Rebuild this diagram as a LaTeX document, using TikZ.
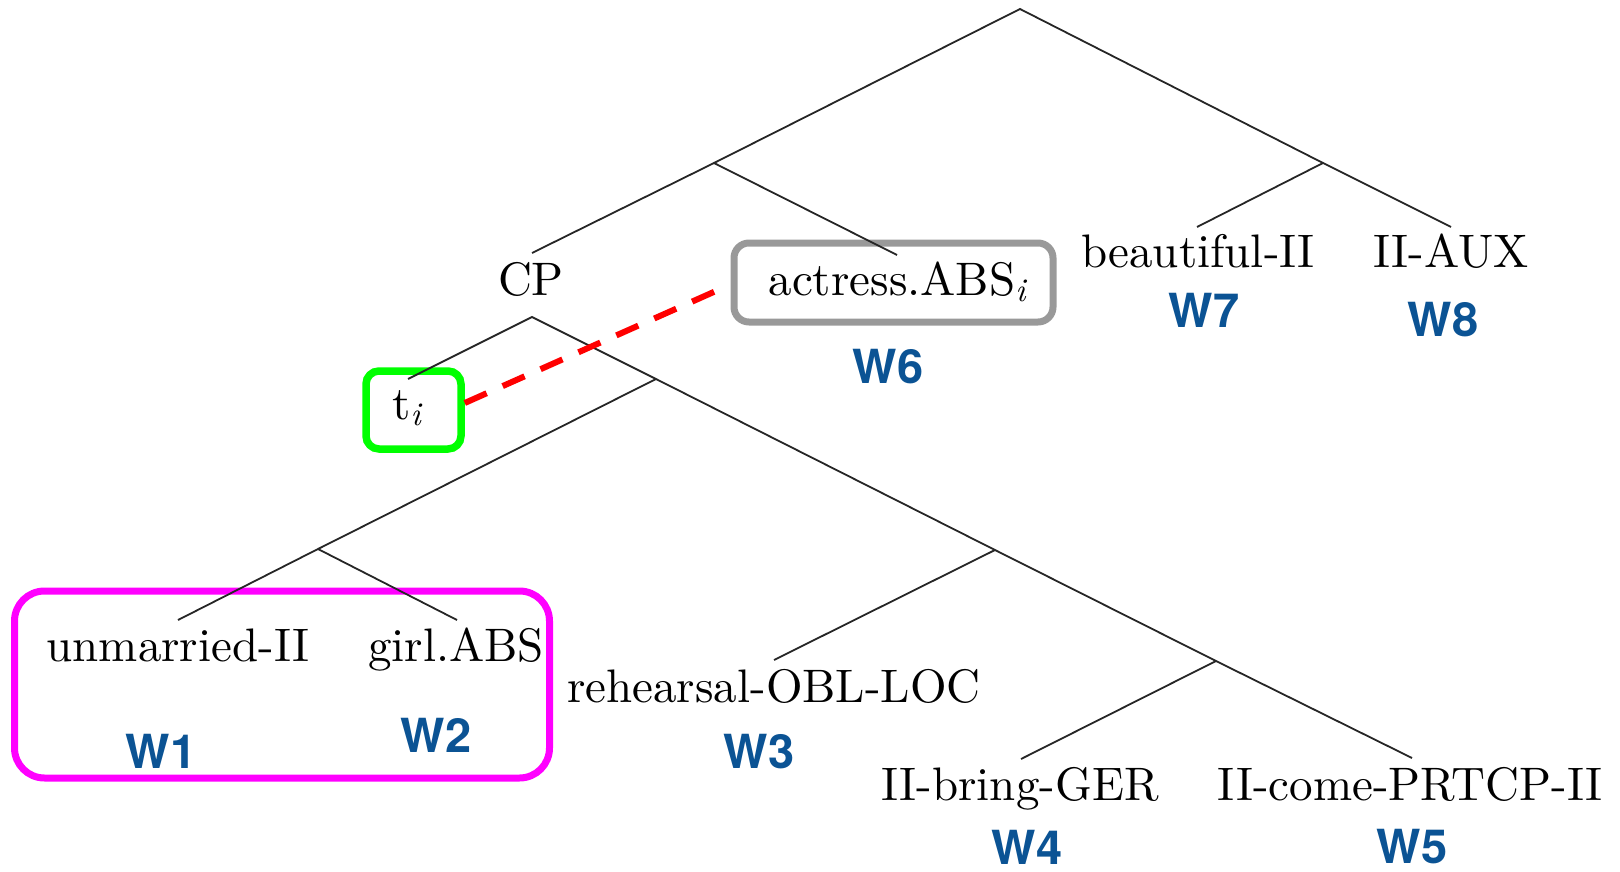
\documentclass[tikz,border=0pt]{standalone}
\usepackage{fontspec}
\setmainfont{lmroman10-regular.otf}[ItalicFont=lmroman10-italic.otf, BoldFont=lmroman10-bold.otf]
\newfontfamily\wfont{TeX Gyre Heros}
\definecolor{wblue}{HTML}{0B5394}
\definecolor{gbox}{HTML}{999999}
\definecolor{pbox}{HTML}{FF00FF}
\definecolor{lbox}{HTML}{00FF00}
\definecolor{rdash}{HTML}{FF0000}
\newcommand{\subi}{\raisebox{-6pt}{\fontsize{33}{40}\selectfont\itshape i}}
\begin{document}
\begin{tikzpicture}[x=1pt,y=-1pt,
  word/.style={font=\fontsize{47}{56}\selectfont, inner sep=0pt, anchor=base},
  wlab/.style={font=\wfont\bfseries\fontsize{47}{56}\selectfont, text=wblue, inner sep=0pt, anchor=base},
  branch/.style={line width=1.8pt, draw=black!85},
  framebox/.style={draw, inner sep=0pt, fill=none},
  link/.style={draw=rdash, line width=6pt, dash pattern=on 24pt off 17.5pt}
]
\useasboundingbox (0,0) rectangle (1620,872);

% boxes
\node[framebox, draw=gbox, line width=7pt, rounded corners=15pt, minimum width=319pt, minimum height=79pt] (abox) at (893.5,282.5) {};
\node[framebox, draw=lbox, line width=7.5pt, rounded corners=13pt, minimum width=95pt, minimum height=78pt] (tbox) at (413.5,410) {};
\node[framebox, draw=pbox, line width=7pt, rounded corners=30pt, minimum width=535pt, minimum height=187pt] (mbox) at (282,684.5) {};

% tree points
\coordinate (root) at (1020,9);
\coordinate (A) at (714,163);
\coordinate (B) at (1323,163);
\coordinate (cpEnd) at (532,253);
\coordinate (actEnd) at (897,255);
\coordinate (C) at (532,317);
\coordinate (tEnd) at (408,379);
\coordinate (D) at (656,379);
\coordinate (E) at (995,550);
\coordinate (G) at (318,549);
\coordinate (unmEnd) at (178,620);
\coordinate (girlEnd) at (457,620);
\coordinate (rehEnd) at (774,660);
\coordinate (F) at (1216,661);
\coordinate (bringEnd) at (1021,759);
\coordinate (comeEnd) at (1412,758);
\coordinate (beaEnd) at (1197,227);
\coordinate (auxEnd) at (1451,227);

% branches
\draw[branch] (A) -- (root) -- (B);
\draw[branch] (cpEnd) -- (A) -- (actEnd);
\draw[branch] (beaEnd) -- (B) -- (auxEnd);
\draw[branch] (tEnd) -- (C) -- (D) -- (E) -- (F) -- (comeEnd);
\draw[branch] (D) -- (G);
\draw[branch] (unmEnd) -- (G) -- (girlEnd);
\draw[branch] (E) -- (rehEnd);
\draw[branch] (F) -- (bringEnd);

% words
\node[word] (cp) at (531,295) {CP};
\node[word] (actress) at (897,295) {actress.ABS\subi};
\node[word] (ti) at (406.5,419) {t\subi};
\node[word] (beautiful) at (1198,267) {beautiful-II};
\node[word] (aux) at (1451,267) {II-AUX};
\node[word] (unmarried) at (178,661) {unmarried-II};
\node[word] (girl) at (456,661) {girl.ABS};
\node[word] (rehearsal) at (774,702) {rehearsal-OBL-LOC};
\node[word] (bring) at (1020,800) {II-bring-GER};
\node[word] (come) at (1410,800) {II-come-PRTCP-II};

% W labels
\node[wlab] (w1) at (161,768) {W1};
\node[wlab] (w2) at (436,752) {W2};
\node[wlab] (w3) at (759,768) {W3};
\node[wlab] (w4) at (1027,864) {W4};
\node[wlab] (w5) at (1412,863) {W5};
\node[wlab] (w6) at (888,383) {W6};
\node[wlab] (w7) at (1204,327) {W7};
\node[wlab] (w8) at (1443,336) {W8};

% trace link
\draw[link, shorten >=17pt] ([yshift=7pt]tbox.east) -- ([yshift=-2pt]abox.west);
\end{tikzpicture}
\end{document}
